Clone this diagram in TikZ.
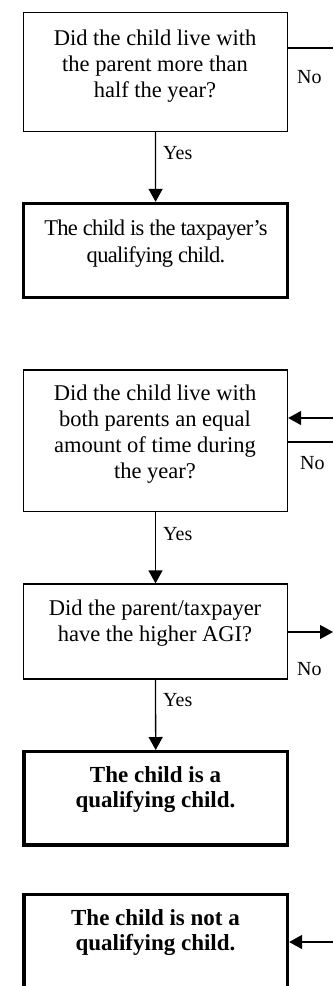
\documentclass[tikz,border=0pt]{standalone}
\usepackage{fontspec}
\setmainfont{Liberation Serif}
\usetikzlibrary{arrows.meta}
\newcommand\mlines[1]{\begin{tabular}[t]{@{}c@{}}#1\end{tabular}}
\tikzset{
  qbox/.style={draw, rectangle, line width=1.3pt, inner sep=0pt},
  abox/.style={draw, rectangle, line width=3.3pt, inner sep=0pt},
  qtext/.style={anchor=base, inner sep=0pt, font=\fontsize{22.5}{26}\selectfont},
  rtext/.style={anchor=base, inner sep=0pt, font=\fontsize{22.5}{27}\selectfont\addfontfeature{LetterSpace=-3}},
  atext/.style={anchor=base, inner sep=0pt, font=\fontsize{23}{25}\selectfont\bfseries},
  lbl/.style={anchor=base west, inner sep=0pt, font=\fontsize{20}{22}\selectfont},
  ln/.style={line width=1.3pt},
  arr/.style={line width=1.3pt, -{Triangle[length=13pt,width=14pt]}}
}
\begin{document}
\begin{tikzpicture}[x=1pt,y=-1pt]
\useasboundingbox (0,0) rectangle (333,986);
% boxes
\node[qbox, minimum width=264pt, minimum height=119pt] (b1) at (155.5,72) {};
\node[abox, minimum width=263.7pt, minimum height=94pt] (b2) at (155.6,250.5) {};
\node[qbox, minimum width=264pt, minimum height=141.5pt] (b3) at (155.5,440.75) {};
\node[qbox, minimum width=264pt, minimum height=95pt] (b4) at (155.5,631.5) {};
\node[abox, minimum width=263.5pt, minimum height=93.3pt] (b5) at (155.7,798.3) {};
\node[abox, minimum width=263.5pt, minimum height=105.7pt] (b6) at (155.7,947.2) {};
% texts
\node[qtext] (t1) at (155,45) {\mlines{Did the child live with\\the parent more than\\half the year?}};
\node[rtext] (t2) at (156,235) {\mlines{The child is the taxpayer’s\\qualifying child.}};
\node[qtext] (t3) at (155,400.7) {\mlines{Did the child live with\\both parents an equal\\amount of time during\\the year?}};
\node[qtext] (t4) at (155,615) {\mlines{Did the parent/taxpayer\\have the higher AGI?}};
\node[atext] (t5) at (155.5,782) {\mlines{The child is a\\qualifying child.}};
\node[atext] (t6) at (155.5,925) {\mlines{The child is not a\\qualifying child.}};
% labels
\node[lbl] (y1) at (163,159) {Yes};
\node[lbl] (y2) at (163,540) {Yes};
\node[lbl] (y3) at (163,706) {Yes};
\node[lbl] (no1) at (297,83) {No};
\node[lbl] (no2) at (300,469) {No};
\node[lbl] (no3) at (297,675) {No};
% vertical connectors
\draw[arr] (b1.south) -- (b2.north);
\draw[arr] (b3.south) -- (b4.north);
\draw[arr] (b4.south) -- (b5.north);
% right side connectors
\coordinate (n1) at (333,48);
\coordinate (n2in) at (333,418);
\coordinate (n2out) at (333,442);
\coordinate (n3) at (333,632);
\coordinate (n4) at (333,942);
\draw[ln] (b1.east |- n1) -- (n1);
\draw[arr] (n2in) -- (b3.east |- n2in);
\draw[ln] (b3.east |- n2out) -- (n2out);
\draw[arr] (b4.east |- n3) -- (n3);
\draw[arr] (n4) -- (b6.east |- n4);
\end{tikzpicture}
\end{document}
